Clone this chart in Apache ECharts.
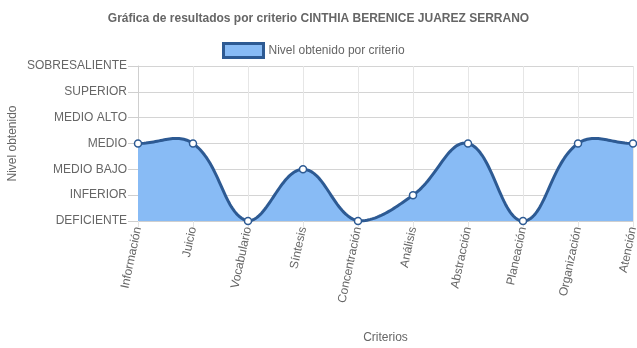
<!DOCTYPE html>
<html>
<head>
<meta charset="utf-8">
<script src="https://cdn.jsdelivr.net/npm/echarts@6/dist/echarts.min.js"></script>
<style>
  html, body { margin: 0; padding: 0; background: #fff; }
  #chart { width: 637px; height: 348px; }
</style>
</head>
<body>
<div id="chart"></div>
<script>
// Criteria evaluated (x axis)
const criterios = ['Información', 'Juicio', 'Vocabulario', 'Síntesis', 'Concentración',
  'Análisis', 'Abstracción', 'Planeación', 'Organización', 'Atención'];

// Performance levels (y axis), lowest first
const niveles = ['DEFICIENTE', 'INFERIOR', 'MEDIO BAJO', 'MEDIO', 'MEDIO ALTO', 'SUPERIOR', 'SOBRESALIENTE'];

// Level reached per criterion, as an index into niveles
const nivelObtenido = [3, 3, 0, 2, 0, 1, 3, 0, 3, 3];

const SERIE = 'Nivel obtenido por criterio';
const FONT = '"Liberation Sans", Arial, sans-serif';
const TXT = '#666';
const LINE = '#2d5a93';
const FILL = '#88bbf5';
const TENSION = 0.4;

// Cardinal spline control points (tension-based), kept inside the plot area
function controlPoints(pts, area) {
  const clampX = x => Math.max(area.x0, Math.min(area.x1, x));
  const clampY = y => Math.max(area.y0, Math.min(area.y1, y));
  return pts.map((p1, i) => {
    const p0 = pts[Math.max(0, i - 1)];
    const p2 = pts[Math.min(pts.length - 1, i + 1)];
    const d01 = Math.hypot(p1[0] - p0[0], p1[1] - p0[1]);
    const d12 = Math.hypot(p2[0] - p1[0], p2[1] - p1[1]);
    let s01 = d01 / (d01 + d12), s12 = d12 / (d01 + d12);
    if (!isFinite(s01)) s01 = 0;
    if (!isFinite(s12)) s12 = 0;
    const fa = TENSION * s01, fb = TENSION * s12;
    return {
      prev: [clampX(p1[0] - fa * (p2[0] - p0[0])), clampY(p1[1] - fa * (p2[1] - p0[1]))],
      next: [clampX(p1[0] + fb * (p2[0] - p0[0])), clampY(p1[1] + fb * (p2[1] - p0[1]))]
    };
  });
}

// Sample the bezier segments into a dense polyline
function sampleCurve(pts, area) {
  const cps = controlPoints(pts, area);
  const out = [pts[0].slice()];
  const N = 32;
  for (let i = 0; i < pts.length - 1; i++) {
    const a = pts[i], b = pts[i + 1], c1 = cps[i].next, c2 = cps[i + 1].prev;
    for (let k = 1; k <= N; k++) {
      const t = k / N, u = 1 - t;
      const w0 = u * u * u, w1 = 3 * u * u * t, w2 = 3 * u * t * t, w3 = t * t * t;
      out.push([
        w0 * a[0] + w1 * c1[0] + w2 * c2[0] + w3 * b[0],
        w0 * a[1] + w1 * c1[1] + w2 * c2[1] + w3 * b[1]
      ]);
    }
  }
  return out;
}

function renderCurve(params, api) {
  if (params.dataIndex !== 0) return null;
  const pts = nivelObtenido.map((v, i) => api.coord([i, v]));
  const top = api.coord([0, niveles.length - 1])[1];
  const base = api.coord([0, 0])[1];
  const area = {
    x0: api.coord([0, 0])[0], x1: api.coord([criterios.length - 1, 0])[0],
    y0: top, y1: base
  };
  const curve = sampleCurve(pts, area);
  const poly = curve.concat([[curve[curve.length - 1][0], base], [curve[0][0], base]]);
  return {
    type: 'group',
    children: [
      { type: 'polygon', shape: { points: poly }, style: { fill: FILL } },
      { type: 'polyline', shape: { points: curve }, style: { fill: null, stroke: LINE, lineWidth: 3, lineJoin: 'round' } }
    ]
  };
}

const chart = echarts.init(document.getElementById('chart'), null, { renderer: 'canvas' });

chart.setOption({
  animation: false,
  textStyle: { fontFamily: FONT },
  title: {
    text: 'Gráfica de resultados por criterio CINTHIA BERENICE JUAREZ SERRANO',
    left: 'center',
    top: 8,
    textStyle: { fontFamily: FONT, fontSize: 12, fontWeight: 'bold', color: TXT }
  },
  legend: {
    left: 217,
    top: 37,
    itemWidth: 40,
    itemHeight: 14,
    itemGap: 10,
    textStyle: { fontFamily: FONT, fontSize: 12, color: TXT },
    data: [{
      name: SERIE,
      icon: 'rect',
      itemStyle: { color: FILL, borderColor: LINE, borderWidth: 3 },
      lineStyle: { opacity: 0, width: 0 }
    }]
  },
  grid: { left: 138, right: 4, top: 66, bottom: 127, containLabel: false, outerBoundsMode: 'none' },
  xAxis: {
    type: 'category',
    data: criterios,
    boundaryGap: false,
    name: 'Criterios',
    nameLocation: 'middle',
    nameGap: 111,
    nameMoveOverlap: false,
    nameTextStyle: { fontFamily: FONT, fontSize: 12, color: TXT },
    axisLine: { show: true, lineStyle: { color: '#cfcfcf', width: 1 } },
    axisTick: { show: true, alignWithLabel: true, length: 6, lineStyle: { color: '#e4e4e4' } },
    axisLabel: { rotate: 78, margin: 6, fontFamily: FONT, fontSize: 12, color: TXT },
    splitLine: { show: true, lineStyle: { color: '#e6e6e6', width: 1 } }
  },
  yAxis: {
    type: 'value',
    min: 0,
    max: niveles.length - 1,
    interval: 1,
    name: 'Nivel obtenido',
    nameLocation: 'middle',
    nameGap: 119,
    nameMoveOverlap: false,
    nameTextStyle: { fontFamily: FONT, fontSize: 12, color: TXT },
    axisLine: { show: true, lineStyle: { color: '#cfcfcf', width: 1 } },
    axisTick: { show: true, length: 10, lineStyle: { color: '#cfcfcf' } },
    axisLabel: {
      margin: 11,
      fontFamily: FONT, fontSize: 12, color: TXT,
      formatter: v => niveles[v] || ''
    },
    splitLine: { show: true, lineStyle: { color: '#d4d4d4', width: 1 } }
  },
  series: [{
    name: SERIE,
    type: 'custom',
    data: nivelObtenido.map((v, i) => [i, v]),
    encode: { x: 0, y: 1 },
    renderItem: renderCurve,
    itemStyle: { color: FILL, borderColor: LINE, borderWidth: 3 },
    z: 2,
    silent: true
  }, {
    name: SERIE,
    type: 'line',
    data: nivelObtenido,
    symbol: 'circle',
    symbolSize: 7,
    showAllSymbol: true,
    itemStyle: { color: '#fff', borderColor: LINE, borderWidth: 1.5 },
    lineStyle: { width: 0, opacity: 0 },
    z: 3
  }]
});
</script>
</body>
</html>
